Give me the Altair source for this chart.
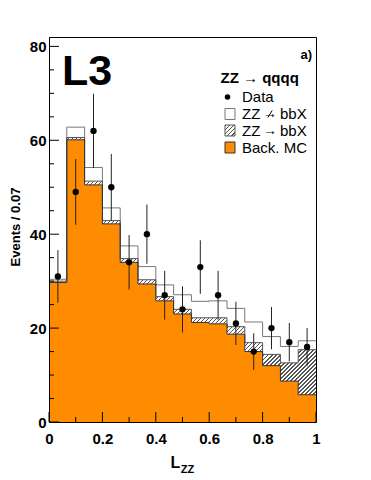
import altair as alt
import pandas as pd

# ---------------- data ----------------
bin_edges = [0.0, 0.0667, 0.1333, 0.2, 0.2667, 0.3333, 0.4, 0.4667,
             0.5333, 0.6, 0.6667, 0.7333, 0.8, 0.8667, 0.9333, 1.0]
bin_centers = [0.0333, 0.1, 0.1667, 0.2333, 0.3, 0.3667, 0.4333, 0.5,
               0.5667, 0.6333, 0.7, 0.7667, 0.8333, 0.9, 0.9667]
back_mc = [29.7, 60.1, 50.5, 42.2, 34.0, 29.4, 25.8, 23.0, 21.2, 20.9, 18.7, 15.0, 12.0, 8.7, 5.8]
zz_bbx = [0.3, 0.5, 0.8, 0.7, 0.8, 0.9, 0.9, 1.0, 1.0, 1.3, 1.6, 1.9, 2.4, 3.9, 9.6]
zz_not_bbx = [0.4, 2.2, 2.9, 2.7, 2.7, 2.8, 2.5, 3.1, 3.5, 3.6, 3.9, 4.4, 3.8, 3.5, 1.9]
data_events = [31, 49, 62, 50, 34, 40, 27, 24, 33, 27, 21, 15, 20, 17, 16]
data_errors = [5.6, 7.0, 7.9, 7.1, 5.8, 6.3, 5.2, 4.9, 5.7, 5.2, 4.6, 3.9, 4.5, 4.1, 4.0]

x_major = [0, 0.2, 0.4, 0.6, 0.8, 1]
x_minor = [0.1, 0.3, 0.5, 0.7, 0.9]
y_major = [0, 20, 40, 60, 80]
y_minor = [5, 10, 15, 25, 30, 35, 45, 50, 55, 65, 70, 75]

legend_title = "ZZ \u2192 qqqq"
legend_data = "Data"
legend_zz = "ZZ"
legend_arrow = "\u2192"
legend_bbx = "bbX"
legend_back = "Back. MC"
y_title = "Events / 0.07"
x_title_main = "L"
x_title_sub = "ZZ"
experiment = "L3"
panel = "a)"

# ---------------- styling ----------------
FONT = "Liberation Sans, DejaVu Sans, sans-serif"
ORANGE = "#ff8c00"
W, H = 267, 385
Y_MAX = 82

hatch_top = [b + h for b, h in zip(back_mc, zz_bbx)]
total_top = [t + w for t, w in zip(hatch_top, zz_not_bbx)]

steps = pd.DataFrame({
    "x": bin_edges,
    "back": back_mc + [back_mc[-1]],
    "hatch": hatch_top + [hatch_top[-1]],
    "total": total_top + [total_top[-1]],
    "zero": [0.0] * len(bin_edges),
})
pts = pd.DataFrame({
    "x": bin_centers,
    "n": data_events,
    "lo": [n - e for n, e in zip(data_events, data_errors)],
    "hi": [n + e for n, e in zip(data_events, data_errors)],
})
one = pd.DataFrame({"k": [0]})


def hatch_gradient(w, h, period=4.0, frac=0.32, line="#555555", bg="#ffffff"):
    n = max(1, int(round((w + h) / period)))
    s = (w + h) / (w * w + h * h)
    stops = []
    for i in range(n):
        a = i / n
        b = (i + frac) / n
        c = (i + 1) / n
        stops += [{"offset": a, "color": line}, {"offset": b, "color": line},
                  {"offset": b, "color": bg}, {"offset": c, "color": bg}]
    return {"gradient": "linear", "x1": 0, "y1": 0, "x2": w * s, "y2": h * s, "stops": stops}


hatch_h_px = (max(hatch_top) - min(back_mc)) * H / Y_MAX
big_hatch = hatch_gradient(W, hatch_h_px)
small_hatch = hatch_gradient(10, 11)

xs = alt.Scale(domain=[0, 1], nice=False, zero=False)
ys = alt.Scale(domain=[0, Y_MAX], nice=False, zero=False)

xaxis = alt.Axis(values=x_major, format="~g", labelFlush=False, labelOverlap=False,
                 labelFont=FONT, labelFontSize=15, labelFontWeight="bold", labelColor="black",
                 labelPadding=9, ticks=False, grid=False, domain=True, domainColor="black",
                 domainWidth=1, title=None, zindex=1)
yaxis = alt.Axis(values=y_major, format="d", labelFlush=False, labelOverlap=False,
                 labelFont=FONT, labelFontSize=15, labelFontWeight="bold", labelColor="black",
                 labelPadding=3, ticks=False, grid=False, domain=True, domainColor="black",
                 domainWidth=1, title=None, zindex=1)


def X(f):
    return alt.X(f, scale=xs, axis=xaxis)


def Y(f):
    return alt.Y(f, scale=ys, axis=yaxis)


base = alt.Chart(steps)

orange = base.mark_area(interpolate="step-after", fill=ORANGE).encode(
    x=X("x:Q"), y=Y("back:Q"), y2="zero:Q")
hatch = base.mark_area(interpolate="step-after", fill=big_hatch).encode(
    x=X("x:Q"), y=Y("hatch:Q"), y2="back:Q")
line_total = base.mark_line(interpolate="step-after", color="#777777", strokeWidth=1).encode(
    x=X("x:Q"), y=Y("total:Q"))
line_hatch = base.mark_line(interpolate="step-after", color="#555555", strokeWidth=1).encode(
    x=X("x:Q"), y=Y("hatch:Q"))
line_back = base.mark_line(interpolate="step-after", color="#333333", strokeWidth=1).encode(
    x=X("x:Q"), y=Y("back:Q"))

errbars = alt.Chart(pts).mark_rule(color="#222222", strokeWidth=1).encode(
    x=X("x:Q"), y=Y("lo:Q"), y2="hi:Q")
dots = alt.Chart(pts).mark_point(filled=True, size=40, color="black", opacity=1).encode(
    x=X("x:Q"), y=Y("n:Q"))

# inward ticks
yt_major = alt.Chart(pd.DataFrame({"v": y_major})).mark_rule(color="black").encode(
    y=Y("v:Q"), x=alt.value(0), x2=alt.value(10))
yt_minor = alt.Chart(pd.DataFrame({"v": y_minor})).mark_rule(color="black").encode(
    y=Y("v:Q"), x=alt.value(0), x2=alt.value(5))
xt_major = alt.Chart(pd.DataFrame({"v": x_major})).mark_rule(color="black").encode(
    x=X("v:Q"), y=alt.value(H), y2=alt.value(H - 10))
xt_minor = alt.Chart(pd.DataFrame({"v": x_minor})).mark_rule(color="black").encode(
    x=X("v:Q"), y=alt.value(H), y2=alt.value(H - 5))


def txt(s, px, py, **kw):
    return alt.Chart(one).mark_text(font=FONT, color="black", text=s, **kw).encode(
        x=alt.value(px), y=alt.value(py))


leg_rows_y = [60, 77, 93.5, 110.5]
LX = 193          # legend label left edge
ARROW_C = 221     # arrow centre
BBX_L = 231       # "bbX" left edge
texts = [
    txt(experiment, 13, 48, fontSize=43, fontWeight="bold", align="left", baseline="alphabetic"),
    txt(panel, 263, 18, fontSize=13, fontWeight="bold", align="right", baseline="middle"),
    txt(legend_title, 171.5, 41, fontSize=15, fontWeight="bold", align="left", baseline="middle"),
    txt(y_title, -33, 190, fontSize=13, fontWeight="bold", align="center", baseline="middle", angle=270),
    txt(x_title_main, 121.5, 431.3, fontSize=16, fontWeight="bold", align="left", baseline="alphabetic"),
    txt(x_title_sub, 131.7, 435.7, fontSize=11, fontWeight="bold", align="left", baseline="alphabetic"),
    txt(legend_data, LX, leg_rows_y[0], fontSize=15, align="left", baseline="middle"),
    txt(legend_back, LX, leg_rows_y[3], fontSize=15, align="left", baseline="middle"),
]
for row in (1, 2):
    yy = leg_rows_y[row]
    texts += [
        txt(legend_zz, LX, yy, fontSize=15, align="left", baseline="middle"),
        txt(legend_arrow, ARROW_C, yy, fontSize=14, align="center", baseline="middle"),
        txt(legend_bbx, BBX_L, yy, fontSize=15, align="left", baseline="middle"),
    ]

# the slash through the arrow of "ZZ -/-> bbX"
veto = alt.Chart(one).mark_rule(color="black", strokeWidth=1).encode(
    x=alt.value(ARROW_C - 2.2), y=alt.value(leg_rows_y[1] + 3.5),
    x2=alt.value(ARROW_C + 2.2), y2=alt.value(leg_rows_y[1] - 3.5))

leg_dot = alt.Chart(one).mark_point(filled=True, size=30, color="black", opacity=1).encode(
    x=alt.value(178.5), y=alt.value(leg_rows_y[0]))


def leg_box(yc, fill, stroke):
    return alt.Chart(one).mark_rect(fill=fill, stroke=stroke, strokeWidth=1).encode(
        x=alt.value(176), x2=alt.value(186), y=alt.value(yc - 5.5), y2=alt.value(yc + 5.5))


box1 = leg_box(leg_rows_y[1], "#ffffff", "#777777")
box2 = leg_box(leg_rows_y[2], small_hatch, "#555555")
box3 = leg_box(leg_rows_y[3], ORANGE, "#333333")

chart = alt.layer(
    orange, hatch, line_total, line_hatch, line_back,
    errbars, dots,
    yt_major, yt_minor, xt_major, xt_minor,
    *texts, veto, leg_dot, box1, box2, box3,
).properties(
    width=W, height=H,
    autosize=alt.AutoSizeParams(type="none"),
    padding={"left": 41, "top": 29, "right": 40, "bottom": 55},
).configure_view(stroke="black", strokeWidth=1)

chart.save("out.html", embed_options={"renderer": "svg", "actions": False})
